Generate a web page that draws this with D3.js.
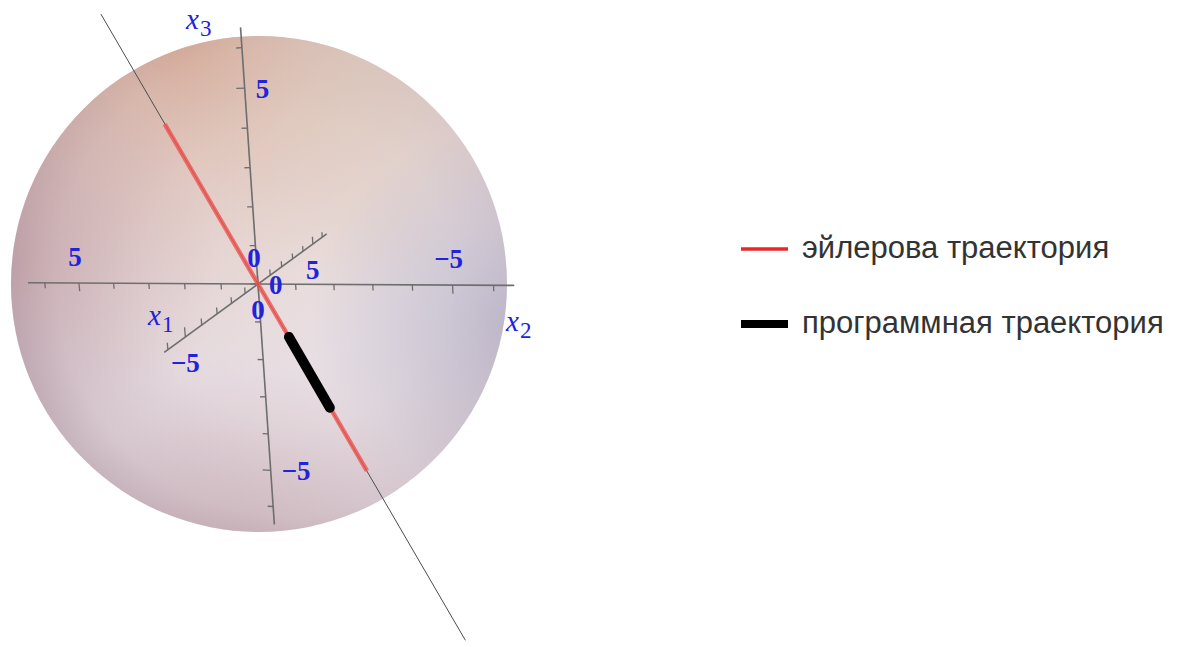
<!DOCTYPE html>
<html>
<head>
<meta charset="utf-8">
<script src="https://cdn.jsdelivr.net/npm/d3@7"></script>
<style>
  html, body { margin: 0; padding: 0; background: #ffffff; }
  svg { display: block; }
</style>
</head>
<body>
<svg id="chart" width="1182" height="647"></svg>
<script>
// ---- data -------------------------------------------------------------
const axisNames   = ["x1", "x2", "x3"];
const axisRanges  = [[-6.2, 6.5], [-6.5, 6.5], [-6.5, 6.5]];
const tickValues  = [-6, -5, -4, -3, -2, -1, 0, 1, 2, 3, 4, 5, 6];
const tickLabels  = [-5, 0, 5];

// straight guide line through the centre and the two trajectories on it (x1, x2, x3)
const guideLine         = [[4.45, 5.8, 6.95], [-4.45, -5.8, -6.95]];
const eulerTrajectory   = [[2.5, 3.26, 3.9], [-2.5, -3.26, -3.9]];
const programTrajectory = [[-0.75, -0.98, -1.17], [-1.7, -2.21, -2.65]];

const legendLabels = ["эйлерова траектория", "программная траектория"];

// ---- view / projection -------------------------------------------------
const origin = [258, 284];
// screen displacement of one unit along each axis, before perspective
const basisVectors = [[12.5, -9.1], [-37.3, -0.2], [-2.6, -38.2]];
// perspective weights (how strongly each axis recedes)
const depthWeights = [-0.028, -0.0083, 0.005];

const screenScales = basisVectors.map(([dx, dy]) => ({
  x: d3.scaleLinear().domain([0, 1]).range([0, dx]),
  y: d3.scaleLinear().domain([0, 1]).range([0, dy])
}));

function project(p) {
  const w = 1 - d3.sum(p, (v, i) => v * depthWeights[i]);
  let x = 0, y = 0;
  p.forEach((v, i) => { x += screenScales[i].x(v); y += screenScales[i].y(v); });
  return [origin[0] + x / w, origin[1] + y / w];
}
const onAxis = (i, v) => { const p = [0, 0, 0]; p[i] = v; return p; };

const svg = d3.select("#chart");
const defs = svg.append("defs");
const line = d3.line();

// ---- sphere shading ------------------------------------------------------
function radial(id, cx, cy, r, stops, fx, fy) {
  const g = defs.append("radialGradient").attr("id", id)
    .attr("cx", cx).attr("cy", cy).attr("r", r)
    .attr("fx", fx ?? cx).attr("fy", fy ?? cy);
  stops.forEach(([o, c, a]) => g.append("stop").attr("offset", o)
    .attr("stop-color", c).attr("stop-opacity", a));
  return `url(#${id})`;
}
const sphereLayers = [
  radial("sBase", 0.56, 0.5, 0.56, [[0, "#ebe3e7", 1], [0.55, "#e5dbe0", 1], [0.85, "#d8cad1", 1], [1, "#c4b2bb", 1]], 0.6, 0.45),
  radial("sWarm", 0.35, 0.0, 0.7, [[0, "#d69a78", 0.6], [0.5, "#dcae92", 0.3], [1, "#e0b8a0", 0]]),
  radial("sBeige", 0.72, 0.12, 0.4, [[0, "#dac8b2", 0.35], [1, "#dac8b2", 0]]),
  radial("sBlue", 1.0, 0.58, 0.4, [[0, "#9a9cbc", 0.45], [1, "#9a9cbc", 0]]),
  radial("sRose", 0.0, 0.45, 0.42, [[0, "#a87482", 0.3], [1, "#a87482", 0]]),
  radial("sBottom", 0.45, 1.05, 0.4, [[0, "#b48890", 0.3], [1, "#b48890", 0]])
];
const sphereCentre = [259, 284];
const sphereR = 248;
const sphere = svg.append("g").attr("class", "sphere");
sphereLayers.forEach(fill => sphere.append("circle")
  .attr("cx", sphereCentre[0]).attr("cy", sphereCentre[1]).attr("r", sphereR)
  .attr("fill", fill));

// ---- axes ----------------------------------------------------------------
const axisColor = "#6e6e6e";
// tick direction in data space for each axis
const tickDirs = [[0, 0, 1], [0, 0, -1], [0, 1, 0]];
const axes = svg.append("g").attr("class", "axes");
axisRanges.forEach((rng, i) => {
  axes.append("path")
    .attr("d", line(rng.map(v => project(onAxis(i, v)))))
    .attr("stroke", axisColor).attr("stroke-width", 1.6).attr("fill", "none");
  tickValues.forEach(v => {
    const len = tickLabels.includes(v) ? 0.22 : 0.15;
    const a = onAxis(i, v);
    const b = a.map((c, k) => c + tickDirs[i][k] * len);
    axes.append("path").attr("d", line([project(a), project(b)]))
      .attr("stroke", axisColor).attr("stroke-width", 1.3).attr("fill", "none");
  });
});

// ---- guide line and trajectories -----------------------------------------
svg.append("path").attr("d", line(guideLine.map(project)))
  .attr("stroke", "#4d4d4d").attr("stroke-width", 1).attr("fill", "none");
svg.append("path").attr("d", line(eulerTrajectory.map(project)))
  .attr("stroke", "#f0524f").attr("stroke-opacity", 0.8)
  .attr("stroke-width", 4.5).attr("fill", "none");
svg.append("path").attr("d", line(programTrajectory.map(project)))
  .attr("stroke", "#000").attr("stroke-width", 10)
  .attr("stroke-linecap", "round").attr("fill", "none");

// ---- tick labels -----------------------------------------------------------
const labelBlue = "#2222dc";
const labelOffsets = [[0, 26], [-4, -26], [11, 1]];
const labelAnchors = ["middle", "middle", "start"];
const fmt = v => (v < 0 ? "\u2212" + Math.abs(v) : String(v));
const labels = svg.append("g").attr("font-family", "Liberation Serif, serif")
  .attr("font-weight", "bold").attr("font-size", 27).attr("fill", labelBlue);
axisNames.forEach((name, i) => {
  tickLabels.forEach(v => {
    const [x, y] = project(onAxis(i, v));
    labels.append("text")
      .attr("x", x + labelOffsets[i][0]).attr("y", y + labelOffsets[i][1])
      .attr("text-anchor", labelAnchors[i]).attr("dominant-baseline", "central")
      .text(fmt(v));
  });
});

// ---- axis names ------------------------------------------------------------
const namePositions = [[148, 325], [506, 331], [186, 29]];
const names = svg.append("g").attr("font-family", "Liberation Serif, serif").attr("fill", labelBlue);
axisNames.forEach((name, i) => {
  const t = names.append("text").attr("x", namePositions[i][0]).attr("y", namePositions[i][1]);
  t.append("tspan").attr("font-style", "italic").attr("font-size", 29).text(name[0]);
  t.append("tspan").attr("font-size", 23).attr("dy", 7).attr("dx", 1).text(name.slice(1));
});

// ---- legend ----------------------------------------------------------------
const legendColors = ["#e8282a", "#000000"];
const legendWidths = [3.5, 8];
const legendY = [249, 324];
const legend = svg.append("g").attr("class", "legend");
legendLabels.forEach((label, i) => {
  legend.append("line").attr("x1", 741).attr("x2", 788)
    .attr("y1", legendY[i]).attr("y2", legendY[i])
    .attr("stroke", legendColors[i]).attr("stroke-width", legendWidths[i]);
  legend.append("text").attr("x", 802).attr("y", legendY[i] + 9)
    .attr("font-family", "Liberation Sans, Arial, sans-serif")
    .attr("font-size", 31).attr("fill", "#333")
    .text(label);
});
</script>
</body>
</html>
